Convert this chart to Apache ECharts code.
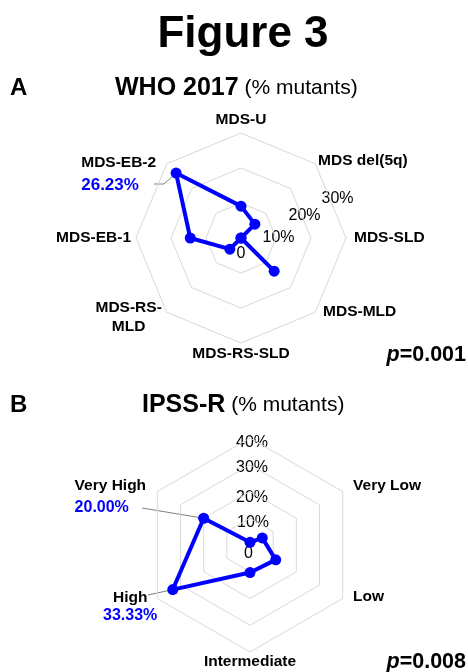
<!DOCTYPE html>
<html>
<head>
<meta charset="utf-8">
<script src="https://cdn.jsdelivr.net/npm/echarts@6/dist/echarts.min.js"></script>
<style>
  html, body { margin: 0; padding: 0; background: #fff; }
  #chart { width: 468px; height: 672px; }
</style>
</head>
<body>
<div id="chart"></div>
<script>
// A - WHO 2017, categories clockwise from the top
var whoCats = ['MDS-U', 'MDS del(5q)', 'MDS-SLD', 'MDS-MLD', 'MDS-RS-SLD', 'MDS-RS-MLD', 'MDS-EB-1', 'MDS-EB-2'];
var whoVals = [9.1, 5.6, 0, 13.4, 0, 4.5, 14.5, 26.23];
var whoTicks = ['0', '10%', '20%', '30%'];
var whoMax = 30;
var whoShown = ['MDS-EB-2'];        // categories with a value label

// B - IPSS-R, clockwise from the top (top spoke has no name)
var ipssCats = ['', 'Very Low', 'Low', 'Intermediate', 'High', 'Very High'];
var ipssVals = [1, 5.3, 11.1, 10.3, 33.33, 20.0];
var ipssTicks = ['0', '10%', '20%', '30%', '40%'];
var ipssMax = 40;
var ipssShown = ['High', 'Very High'];

var FONT = '"Liberation Sans", Arial, Helvetica, sans-serif';
var BLUE = '#0000ff';

var chart = echarts.init(document.getElementById('chart'));

// echarts lays indicators out counter-clockwise, keep the first on top
function ccw(arr) { return [arr[0]].concat(arr.slice(1).reverse()); }

// small per-name placement tweaks
var nameLayout = {
  'MDS-U': { gap: 5 },
  'MDS del(5q)': { gap: 4 },
  'MDS-SLD': { gap: 8 },
  'MDS-MLD': { gap: 11, va: 'bottom' },
  'MDS-RS-SLD': { gap: 3 },
  'MDS-RS-MLD': { gap: 7 },
  'MDS-EB-1': { gap: 5 },
  'MDS-EB-2': { gap: 15, va: 'top' },
  'Very Low': { gap: 12 },
  'Low': { gap: 12, va: 'bottom' },
  'Intermediate': { gap: 2 },
  'High': { gap: 0, pad: [15, 0, 0, 0] },
  'Very High': { gap: 13, pad: [27, 0, 0, 0] }
};

function pct(v) { return v.toFixed(2) + '%'; }

function indicators(cats, max) {
  return ccw(cats).map(function (c) {
    var lay = nameLayout[c] || {};
    var ind = { name: c, max: max, min: 0 };
    if (lay.gap != null) ind.nameGap = lay.gap;
    var ts = {};
    if (lay.va) ts.verticalAlign = lay.va;
    if (lay.pad) ts.padding = lay.pad;
    ind.nameTextStyle = ts;
    return ind;
  });
}

function nameFormatter(cats, vals, shown) {
  return function (name) {
    var i = cats.indexOf(name);
    if (name === 'MDS-RS-MLD') return '{nc|MDS-RS-}\n{nc|MLD}';
    if (shown.indexOf(name) < 0) return name;
    if (name === 'High') return '{nc|' + name + '}\n{vs|' + pct(vals[i]) + '}';
    if (name === 'MDS-EB-2') return '{nl|' + name + '}\n{vb|' + pct(vals[i]) + '}';
    return '{nl|' + name + '}\n{vl|' + pct(vals[i]) + '}';
  };
}

var nameRich = {
  nl: { align: 'left', fontFamily: FONT, fontWeight: 'bold', fontSize: 15.5, color: '#000', lineHeight: 19 },
  nc: { align: 'center', fontFamily: FONT, fontWeight: 'bold', fontSize: 15.5, color: '#000', lineHeight: 19 },
  vl: { align: 'left', fontFamily: FONT, fontWeight: 'bold', fontSize: 16, color: BLUE, lineHeight: 26 },
  vb: { align: 'left', fontFamily: FONT, fontWeight: 'bold', fontSize: 17, color: BLUE, lineHeight: 27 },
  vs: { align: 'center', fontFamily: FONT, fontWeight: 'bold', fontSize: 16, color: BLUE, lineHeight: 17 }
};

function radarOpt(center, radius, cats, vals, shown, max, ticks) {
  return {
    center: center,
    radius: radius,
    startAngle: 90,
    shape: 'polygon',
    splitNumber: ticks.length - 1,
    indicator: indicators(cats, max),
    axisLine: { show: false },
    axisTick: { show: false },
    axisLabel: { show: false },
    splitArea: { show: false },
    splitLine: { lineStyle: { color: '#d9d9d9', width: 1 } },
    axisName: {
      color: '#000',
      fontFamily: FONT,
      fontWeight: 'bold',
      fontSize: 15.5,
      formatter: nameFormatter(cats, vals, shown),
      rich: nameRich
    }
  };
}

var whoCenter = [241, 238], whoR = 105;
var ipssCenter = [250, 545], ipssR = 107;

// tick label offsets from each centre
var whoTickPos = [[0, 15.5], [37.5, -0.5], [63.5, -22.5], [96.5, -39.5]];
var ipssTickPos = [[-1.5, 9], [3, -22.5], [2, -47.5], [2, -77.5], [2, -102]];

function tickTexts(ticks, pos, center) {
  return ticks.map(function (t, i) {
    return {
      type: 'text', silent: true,
      x: center[0] + pos[i][0], y: center[1] + pos[i][1],
      style: { text: t, font: '16px ' + FONT, fill: '#000', align: 'center', verticalAlign: 'middle' }
    };
  });
}

function seriesOpt(idx, vals) {
  return {
    type: 'radar',
    radarIndex: idx,
    symbol: 'circle',
    symbolSize: 11,
    lineStyle: { color: BLUE, width: 4 },
    itemStyle: { color: BLUE },
    data: [{ value: ccw(vals) }]
  };
}

var graphics = [
  { type: 'text', x: 243, y: 35, style: { text: 'Figure 3', font: 'bold 44px ' + FONT, fill: '#000', align: 'center', verticalAlign: 'middle' } },
  { type: 'text', x: 10, y: 88, style: { text: 'A', font: 'bold 24px ' + FONT, fill: '#000', align: 'left', verticalAlign: 'middle' } },
  { type: 'text', x: 115, y: 88, style: {
      text: '{b|WHO 2017} {r|(% mutants)}', font: '21px ' + FONT, fill: '#000', align: 'left', verticalAlign: 'middle',
      rich: { b: { fontFamily: FONT, fontWeight: 'bold', fontSize: 25 }, r: { fontFamily: FONT, fontSize: 21 } } } },
  { type: 'text', x: 10, y: 405, style: { text: 'B', font: 'bold 24px ' + FONT, fill: '#000', align: 'left', verticalAlign: 'middle' } },
  { type: 'text', x: 142, y: 405, style: {
      text: '{b|IPSS-R} {r|(% mutants)}', font: '21px ' + FONT, fill: '#000', align: 'left', verticalAlign: 'middle',
      rich: { b: { fontFamily: FONT, fontWeight: 'bold', fontSize: 25 }, r: { fontFamily: FONT, fontSize: 21 } } } },
  { type: 'text', x: 466, y: 355, style: {
      text: '{i|p}{b|=0.001}', font: 'bold 21px ' + FONT, fill: '#000', align: 'right', verticalAlign: 'middle',
      rich: { i: { fontFamily: FONT, fontWeight: 'bold', fontStyle: 'italic', fontSize: 21.5 }, b: { fontFamily: FONT, fontWeight: 'bold', fontSize: 21.5 } } } },
  { type: 'text', x: 466, y: 662, style: {
      text: '{i|p}{b|=0.008}', font: 'bold 21px ' + FONT, fill: '#000', align: 'right', verticalAlign: 'middle',
      rich: { i: { fontFamily: FONT, fontWeight: 'bold', fontStyle: 'italic', fontSize: 21.5 }, b: { fontFamily: FONT, fontWeight: 'bold', fontSize: 21.5 } } } }
].concat(tickTexts(whoTicks, whoTickPos, whoCenter), tickTexts(ipssTicks, ipssTickPos, ipssCenter));

chart.setOption({
  animation: false,
  backgroundColor: '#fff',
  radar: [
    radarOpt(whoCenter, whoR, whoCats, whoVals, whoShown, whoMax, whoTicks),
    radarOpt(ipssCenter, ipssR, ipssCats, ipssVals, ipssShown, ipssMax, ipssTicks)
  ],
  series: [seriesOpt(0, whoVals), seriesOpt(1, ipssVals)],
  graphic: graphics
});

// leader lines from the value labels to their points
function pointOf(radarIdx, cats, vals, name) {
  var cs = chart.getModel().getComponent('radar', radarIdx).coordinateSystem;
  var i = ccw(cats).indexOf(name);
  return cs.dataToPoint(ccw(vals)[i], i);
}

var leaders = [
  { radar: 0, cats: whoCats, vals: whoVals, name: 'MDS-EB-2', from: [[154, 184], [164, 184]] },
  { radar: 1, cats: ipssCats, vals: ipssVals, name: 'Very High', from: [[142, 508]] },
  { radar: 1, cats: ipssCats, vals: ipssVals, name: 'High', from: [[148, 595]] }
];

var leaderLines = leaders.map(function (l) {
  var p = pointOf(l.radar, l.cats, l.vals, l.name);
  return {
    type: 'polyline', silent: true, z: -1,
    shape: { points: l.from.concat([p]) },
    style: { stroke: '#808080', lineWidth: 1, fill: null }
  };
});

chart.setOption({ graphic: graphics.concat(leaderLines) });
</script>
</body>
</html>
